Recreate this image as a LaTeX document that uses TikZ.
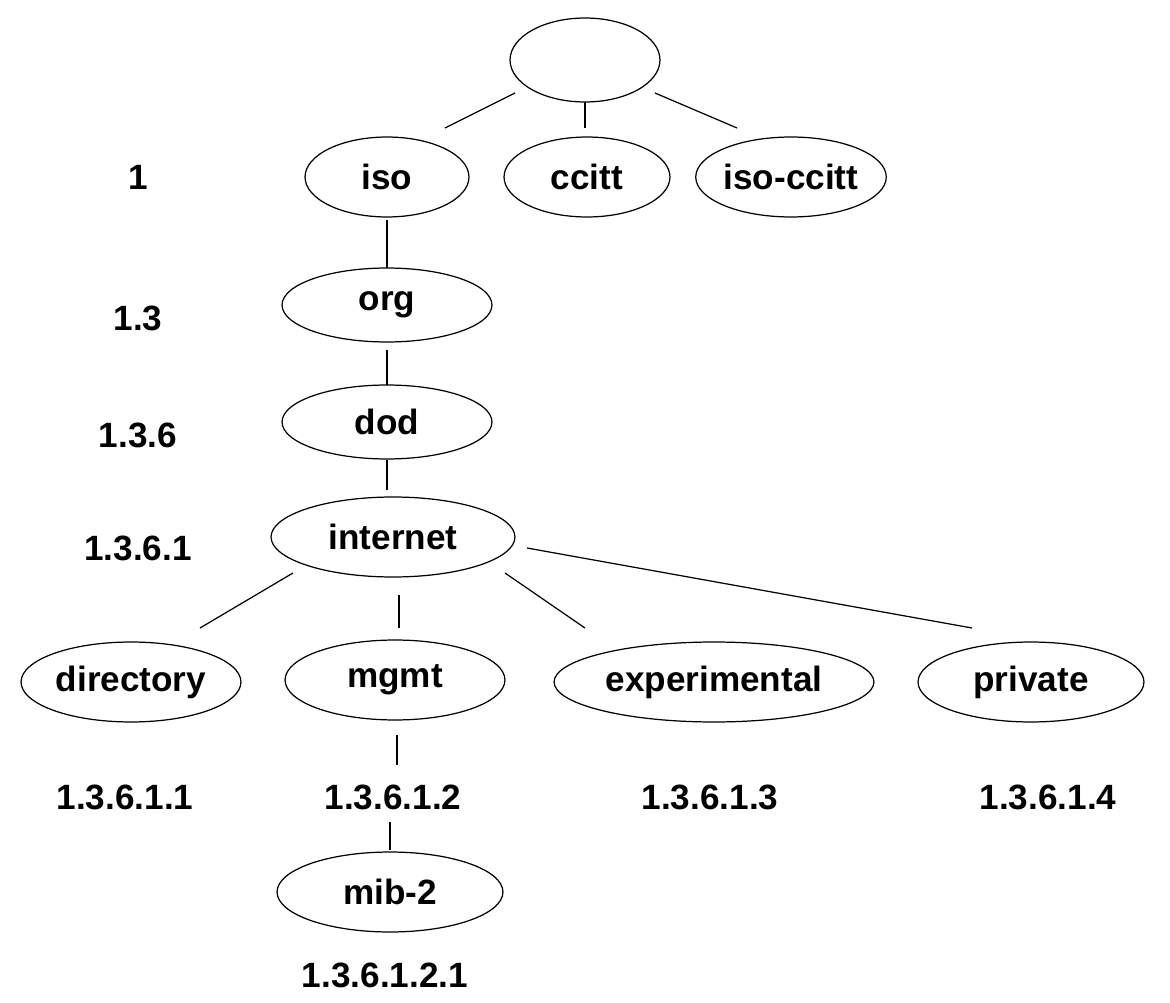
\documentclass[tikz,border=0pt]{standalone}
\usepackage{fontspec}
\setmainfont{Liberation Sans}
\usetikzlibrary{shapes.geometric}
\begin{document}
\begin{tikzpicture}[x=0.02cm,y=-0.02cm,
  el/.style={draw,line width=0.7pt,ellipse,inner sep=0pt},
  lb/.style={font=\fontsize{20}{24}\selectfont\bfseries},
  ln/.style={line width=0.7pt}]
\useasboundingbox (0,0) rectangle (1170,1003);
\newcommand{\en}[6]{\node[el,minimum width=#4*0.04cm,minimum height=#5*0.04cm,lb] (#1) at (#2,#3) {#6};}
\en{root}{585}{60}{75}{42}{}
\en{iso}{387}{177}{82}{40}{iso}
\en{ccitt}{587}{177}{83}{40}{ccitt}
\en{isoccitt}{791}{177}{84}{40}{iso-ccitt}
\en{org}{387}{305}{105}{37}{org}
\en{dod}{387}{422}{105}{37}{dod}
\en{internet}{393}{537}{122}{40}{internet}
\en{directory}{131}{682}{110}{40}{directory}
\en{mgmt}{395}{680}{110}{40}{mgmt}
\en{experimental}{714}{682}{160}{40}{experimental}
\en{private}{1031}{682}{113}{40}{private}
\en{mib}{390}{892}{113}{40}{mib-2}
\node[lb] (l1) at (138,177) {1};
\node[lb] (l2) at (138,318) {1.3};
\node[lb] (l3) at (138,435) {1.3.6};
\node[lb] (l4) at (138,548) {1.3.6.1};
\node[lb] (l5) at (125,797) {1.3.6.1.1};
\node[lb] (l6) at (393,797) {1.3.6.1.2};
\node[lb] (l7) at (710,797) {1.3.6.1.3};
\node[lb] (l8) at (1048,797) {1.3.6.1.4};
\node[lb] (l9) at (385,975) {1.3.6.1.2.1};
\coordinate (a1) at (515,93); \coordinate (a2) at (445,128);
\coordinate (b1) at (585,102); \coordinate (b2) at (585,128);
\coordinate (c1) at (655,93); \coordinate (c2) at (737,128);
\coordinate (d1) at (387,220); \coordinate (d2) at (387,268);
\coordinate (e1) at (387,350); \coordinate (e2) at (387,385);
\coordinate (f1) at (387,460); \coordinate (f2) at (387,490);
\coordinate (g1) at (293,573); \coordinate (g2) at (200,628);
\coordinate (h1) at (399,595); \coordinate (h2) at (399,628);
\coordinate (i1) at (505,573); \coordinate (i2) at (585,628);
\coordinate (j1) at (527,548); \coordinate (j2) at (972,628);
\coordinate (k1) at (397,735); \coordinate (k2) at (397,765);
\coordinate (m1) at (390,822); \coordinate (m2) at (390,850);
\foreach \p/\q in {a1/a2,b1/b2,c1/c2,d1/d2,e1/e2,f1/f2,g1/g2,h1/h2,i1/i2,j1/j2,k1/k2,m1/m2}
  \draw[ln] (\p) -- (\q);
\end{tikzpicture}
\end{document}
